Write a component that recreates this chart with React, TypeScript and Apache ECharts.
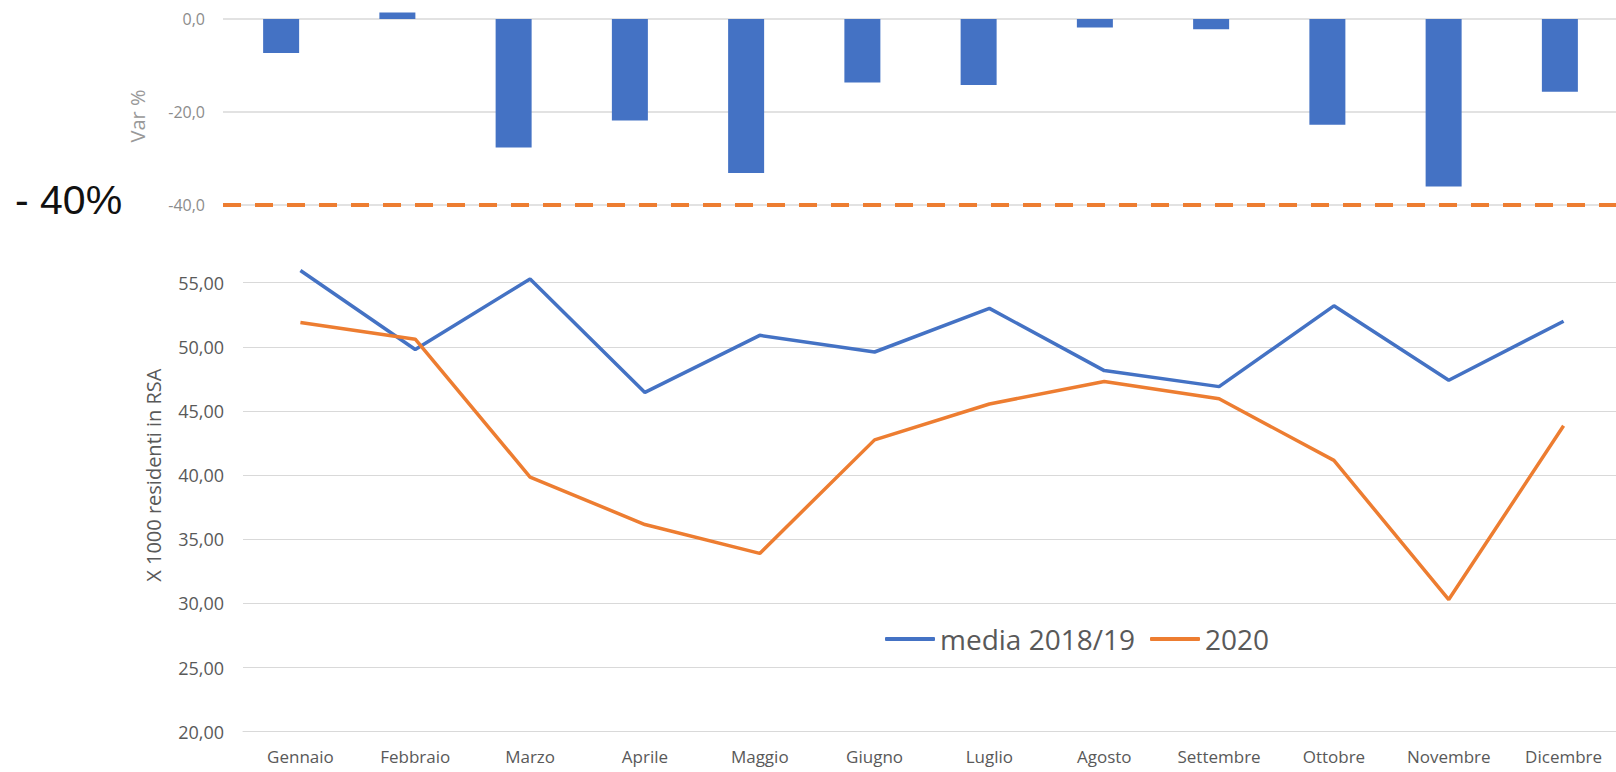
import React, { useEffect, useRef } from "react";
import * as echarts from "echarts";

const months = ["Gennaio", "Febbraio", "Marzo", "Aprile", "Maggio", "Giugno", "Luglio", "Agosto", "Settembre", "Ottobre", "Novembre", "Dicembre"];
const varPct = [-7.3, 1.4, -27.7, -21.9, -33.2, -13.7, -14.2, -1.8, -2.2, -22.8, -36.1, -15.7];
const media1819 = [55.95, 49.8, 55.3, 46.45, 50.9, 49.6, 53.0, 48.15, 46.9, 53.2, 47.4, 52.0];
const y2020 = [51.9, 50.6, 39.85, 36.15, 33.9, 42.75, 45.55, 47.3, 45.95, 41.15, 30.3, 43.85];
const threshold = -40;

const BLUE = "#4472C4";
const ORANGE = "#ED7D31";
const GRID = "#d9d9d9";
const TXT = "#595959";
const FONT = "'Open Sans', 'Noto Sans', sans-serif";

export default function App() {
  const ref = useRef<HTMLDivElement>(null);
  useEffect(() => {
    if (!ref.current) return;
    const chart = echarts.init(ref.current, null, { renderer: "svg" });
    chart.setOption({
      animation: false,
      backgroundColor: "#ffffff",
      grid: [
        { left: 223, right: -2, top: 0.5, height: 204, outerBoundsMode: "none" },
        { left: 243, right: -5, top: 218.6, bottom: 40.3, outerBoundsMode: "none" },
      ],
      legend: {
        left: 880,
        top: 620,
        icon: "roundRect",
        itemWidth: 50,
        itemHeight: 4,
        itemGap: 15,
        data: ["media 2018/19", "2020"],
        textStyle: { fontSize: 28, fontFamily: FONT, color: TXT },
      },
      xAxis: [
        {
          type: "category",
          gridIndex: 0,
          data: months,
          axisLine: { show: false },
          axisTick: { show: false },
          axisLabel: { show: false },
        },
        {
          type: "category",
          gridIndex: 1,
          data: months,
          axisLine: { show: true, lineStyle: { color: GRID, width: 1 } },
          axisTick: { show: false },
          axisLabel: { fontSize: 17, fontFamily: FONT, color: TXT, margin: 16 },
        },
      ],
      yAxis: [
        {
          type: "value",
          gridIndex: 0,
          min: -40,
          max: 4,
          interval: 20,
          name: "Var %",
          nameLocation: "middle",
          nameGap: 76,
          nameTextStyle: { fontSize: 20, fontFamily: FONT, color: "#999999", padding: [0, 27, 0, 0] },
          axisLine: { show: false },
          axisTick: { show: false },
          axisLabel: {
            fontSize: 16,
            fontFamily: FONT,
            color: "#8c8c8c",
            margin: 18,
            showMaxLabel: false,
            formatter: (v: number) => v.toFixed(1).replace(".", ","),
          },
          splitLine: { show: true, showMaxLine: false, lineStyle: { color: GRID, width: 1.5 } },
        },
        {
          type: "value",
          gridIndex: 1,
          min: 20,
          max: 60,
          interval: 5,
          name: "X 1000 residenti in RSA",
          nameLocation: "middle",
          nameGap: 80,
          nameTextStyle: { fontSize: 20, fontFamily: FONT, color: TXT },
          axisLine: { show: false },
          axisTick: { show: false },
          axisLabel: {
            fontSize: 18,
            fontFamily: FONT,
            color: TXT,
            margin: 19,
            showMaxLabel: false,
            formatter: (v: number) => v.toFixed(2).replace(".", ","),
          },
          splitLine: { show: true, showMaxLine: false, lineStyle: { color: GRID, width: 1 } },
        },
      ],
      series: [
        {
          type: "bar",
          name: "Var %",
          xAxisIndex: 0,
          yAxisIndex: 0,
          data: varPct,
          barWidth: 36,
          itemStyle: { color: BLUE },
          markLine: {
            silent: true,
            symbol: "none",
            label: { show: false },
            lineStyle: { color: ORANGE, type: [18, 14], width: 4 },
            data: [{ yAxis: threshold }],
          },
        },
        {
          type: "line",
          name: "media 2018/19",
          xAxisIndex: 1,
          yAxisIndex: 1,
          data: media1819,
          showSymbol: false,
          symbol: "none",
          lineStyle: { color: BLUE, width: 3.5 },
          itemStyle: { color: BLUE },
        },
        {
          type: "line",
          name: "2020",
          xAxisIndex: 1,
          yAxisIndex: 1,
          data: y2020,
          showSymbol: false,
          symbol: "none",
          lineStyle: { color: ORANGE, width: 3.5 },
          itemStyle: { color: ORANGE },
        },
      ],
      graphic: [
        {
          type: "text",
          x: 15,
          y: 200,
          style: {
            text: "- 40%",
            font: '41px "Liberation Sans"',
            fill: "#111111",
            textVerticalAlign: "middle",
          },
        },
      ],
    });
    return () => chart.dispose();
  }, []);
  return <div ref={ref} style={{ position: "absolute", left: 0, top: 0, width: 1616, height: 772 }} />;
}
